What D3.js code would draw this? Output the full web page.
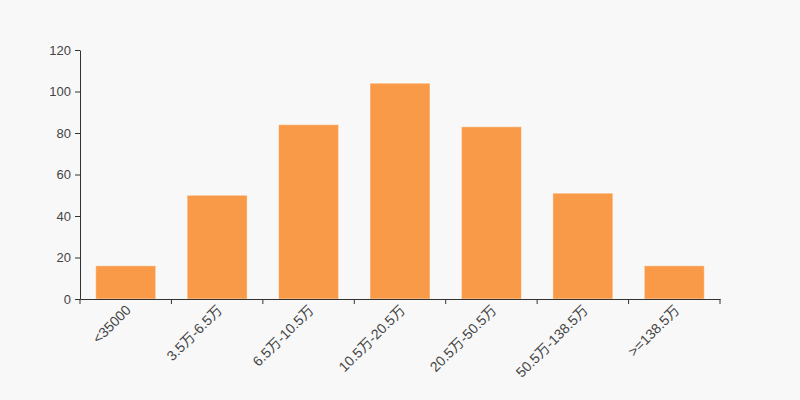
<!DOCTYPE html>
<html>
<head>
<meta charset="utf-8">
<script src="https://cdn.jsdelivr.net/npm/d3@7"></script>
<style>
  body { margin: 0; background: #f8f8f8; }
  svg { display: block; }
  text { font-family: "Liberation Sans", Arial, "Noto Sans CJK SC", sans-serif; }
</style>
</head>
<body>
<svg></svg>
<script>
const margin = {t: 50, r: 80, b: 101, l: 80};
const size = {w: 800, h: 400};

// data
const categories = ['<35000', '3.5万-6.5万', '6.5万-10.5万', '10.5万-20.5万', '20.5万-50.5万', '50.5万-138.5万', '>=138.5万'];
const counts = [16, 50, 84, 104, 83, 51, 16];
const yTicks = [0, 20, 40, 60, 80, 100, 120];

const svg = d3.select('svg')
    .attr('width', size.w)
    .attr('height', size.h);

const innerW = size.w - margin.l - margin.r;
const innerH = size.h - margin.t - margin.b;

const g = svg.append('g')
    .attr('transform', `translate(${margin.l},${margin.t})`);

let x = d3.scaleBand()
    .domain(categories)
    .range([0, innerW])
    .paddingInner(0.344)
    .paddingOuter(0.172);

let y = d3.scaleLinear()
    .domain([0, 120])
    .range([innerH, 0]);

// bars
g.selectAll('rect.bar')
    .data(counts)
    .join('rect')
    .classed('bar', true)
    .attr('x', (d, i) => x(categories[i]))
    .attr('y', d => y(d))
    .attr('width', x.bandwidth())
    .attr('height', d => innerH - y(d))
    .attr('fill', '#f89a48')
    .attr('stroke', 'rgba(255,255,255,0.45)')
    .attr('stroke-width', 1);

// y axis
let yAxis = g.append('g')
    .call(d3.axisLeft(y).tickValues(yTicks).tickSize(5).tickSizeOuter(0).tickPadding(4));

// x axis, ticks on category boundaries
let xAxis = g.append('g')
    .attr('transform', `translate(0,${innerH})`)
    .call(d3.axisBottom(x).tickSize(0).tickSizeOuter(0).tickFormat(''));

xAxis.selectAll('.tick').remove();

let bounds = d3.range(categories.length + 1).map(i => i * innerW / categories.length);
xAxis.selectAll('line.bound')
    .data(bounds)
    .join('line')
    .classed('bound', true)
    .attr('x1', d => d)
    .attr('x2', d => d)
    .attr('y1', 0)
    .attr('y2', 5)
    .attr('stroke', '#333');

xAxis.selectAll('text.lab')
    .data(categories)
    .join('text')
    .classed('lab', true)
    .attr('transform', d => `translate(${x(d) + x.bandwidth() / 2 - 1},${5}) rotate(-45)`)
    .attr('text-anchor', 'end')
    .attr('dy', '0.71em')
    .attr('fill', '#444')
    .style('font-size', '14px')
    .text(d => d);

[xAxis, yAxis].forEach(a => {
    a.select('.domain').attr('stroke', '#333');
    a.selectAll('.tick line').attr('stroke', '#333');
    a.selectAll('.tick text').attr('fill', '#444').style('font-size', '13px');
});
</script>
</body>
</html>
